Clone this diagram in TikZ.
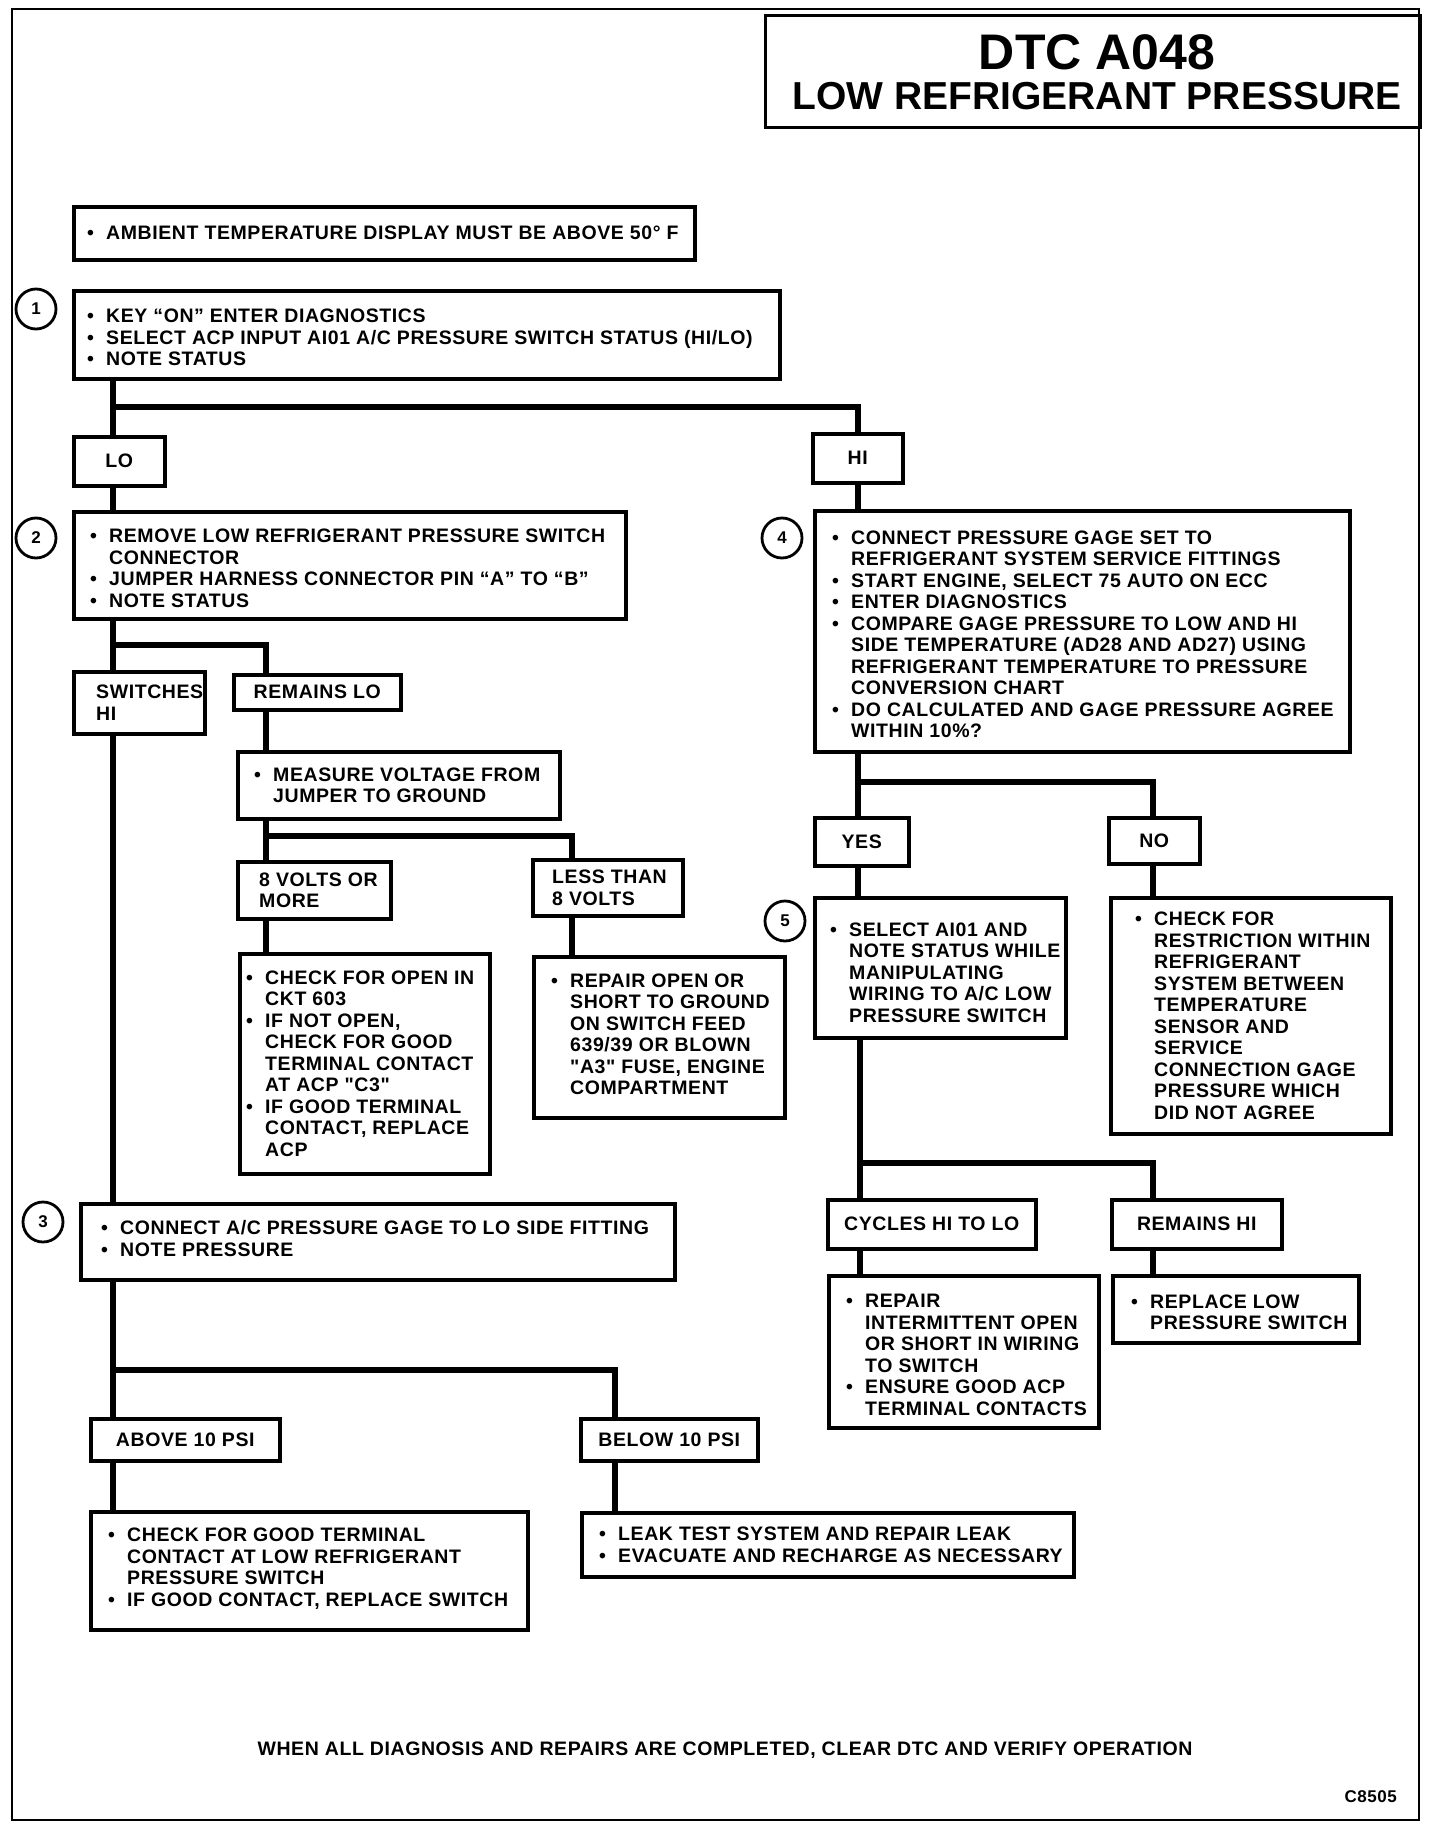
\documentclass[tikz,border=0pt]{standalone}
\usepackage{fontspec}
\setmainfont{Liberation Sans}[LetterSpace=3, Ligatures=TeXOff]
\newfontfamily\titlefont{Liberation Sans}
\usetikzlibrary{backgrounds}
\tikzset{
  bx/.style={draw, line width=3.5pt, fill=white, anchor=north west, inner sep=0pt},
  txt/.style={anchor=west, inner sep=0pt, align=left, font=\fontsize{19.5}{21.5}\selectfont\bfseries},
  lbl/.style={inner sep=0pt, font=\fontsize{19.5}{21.5}\selectfont\bfseries},
  conn/.style={line width=6pt},
  num/.style={circle, draw, line width=2.8pt, minimum size=40pt, inner sep=0pt, font=\fontsize{17}{17}\selectfont\bfseries},
}
\newcommand\bu{\makebox[19pt][l]{•}}
\newcommand\ind{\hspace*{19pt}}
\newcommand\bxn[5]{\node[bx, minimum width=#4pt, minimum height=#5pt] (#1) at (#2,#3) {};}
\begin{document}
\begin{tikzpicture}[x=1pt,y=-1pt]
\useasboundingbox (0,0) rectangle (1440,1830);
\draw[line width=2.5pt] (12,9) rectangle (1419,1820);
% title
\node[draw, line width=3pt, anchor=north west, minimum width=655pt, minimum height=112pt, inner sep=0pt] (tb) at (764,14) {};
\node[inner sep=0pt, font=\titlefont\fontsize{50}{50}\selectfont\bfseries] (tt1) at (1097,52) {DTC A048};
\node[inner sep=0pt, font=\titlefont\fontsize{39}{39}\selectfont\bfseries] (tt2) at (1097,96) {LOW REFRIGERANT PRESSURE};

% boxes
\bxn{b0}{72}{205}{621}{53}
\bxn{b1}{72}{289}{706}{88}
\bxn{lo}{72}{435}{91}{49}
\bxn{hi}{811}{432}{90}{49}
\bxn{b2}{72}{510}{552}{107}
\bxn{b4}{813}{509}{535}{241}
\bxn{sw}{72}{670}{131}{62}
\bxn{rl}{232}{673}{167}{35}
\bxn{ms}{236}{750}{322}{67}
\bxn{v8}{236}{860}{153}{57}
\bxn{lt}{531}{858}{150}{56}
\bxn{ck}{238}{952}{250}{220}
\bxn{rp}{532}{955}{251}{161}
\bxn{b3}{79}{1202}{594}{76}
\bxn{ab}{89}{1417}{189}{42}
\bxn{bl}{579}{1417}{177}{42}
\bxn{cg}{89}{1510}{437}{118}
\bxn{lk}{580}{1511}{492}{64}
\bxn{yes}{813}{816}{94}{48}
\bxn{no}{1107}{816}{91}{46}
\bxn{b5}{813}{896}{251}{140}
\bxn{nb}{1109}{896}{280}{236}
\bxn{cy}{826}{1198}{208}{49}
\bxn{rh}{1110}{1198}{170}{49}
\bxn{ri}{827}{1274}{270}{152}
\bxn{rpl}{1111}{1274}{246}{67}

% numbers
\node[num] (c1) at (36,309) {1};
\node[num] (c2) at (36,538) {2};
\node[num] (c3) at (43,1222) {3};
\node[num] (c4) at (782,538) {4};
\node[num] (c5) at (785,921) {5};

% texts
\node[txt] (t0) at ([xshift=15pt]b0.west) {\bu AMBIENT TEMPERATURE DISPLAY MUST BE ABOVE 50° F};
\node[txt] (t1) at ([xshift=15pt,yshift=-3pt]b1.west) {\bu KEY “ON” ENTER DIAGNOSTICS\\ \bu SELECT ACP INPUT AI01 A/C PRESSURE SWITCH STATUS (HI/LO)\\ \bu NOTE STATUS};
\node[lbl] (tlo) at (lo.center) {LO};
\node[lbl] (thi) at (hi.center) {HI};
\node[txt] (t2) at ([xshift=18pt,yshift=-3pt]b2.west) {\bu REMOVE LOW REFRIGERANT PRESSURE SWITCH\\ \ind CONNECTOR\\ \bu JUMPER HARNESS CONNECTOR PIN “A” TO “B”\\ \bu NOTE STATUS};
\node[txt] (t4) at ([xshift=19pt,yshift=-3pt]b4.west) {\bu CONNECT PRESSURE GAGE SET TO\\ \ind REFRIGERANT SYSTEM SERVICE FITTINGS\\ \bu START ENGINE, SELECT 75 AUTO ON ECC\\ \bu ENTER DIAGNOSTICS\\ \bu COMPARE GAGE PRESSURE TO LOW AND HI\\ \ind SIDE TEMPERATURE (AD28 AND AD27) USING\\ \ind REFRIGERANT TEMPERATURE TO PRESSURE\\ \ind CONVERSION CHART\\ \bu DO CALCULATED AND GAGE PRESSURE AGREE\\ \ind WITHIN 10\%?};
\node[txt] (tsw) at ([xshift=24pt]sw.west) {SWITCHES\\HI};
\node[lbl] (trl) at (rl.center) {REMAINS LO};
\node[txt] (tms) at ([xshift=18pt]ms.west) {\bu MEASURE VOLTAGE FROM\\ \ind JUMPER TO GROUND};
\node[txt] (tv8) at ([xshift=23pt]v8.west) {8 VOLTS OR\\MORE};
\node[txt] (tlt) at ([xshift=21pt]lt.west) {LESS THAN\\8 VOLTS};
\node[txt] (tck) at ([xshift=8pt]ck.west) {\bu CHECK FOR OPEN IN\\ \ind CKT 603\\ \bu IF NOT OPEN,\\ \ind CHECK FOR GOOD\\ \ind TERMINAL CONTACT\\ \ind AT ACP "C3"\\ \bu IF GOOD TERMINAL\\ \ind CONTACT, REPLACE\\ \ind ACP};
\node[txt] (trp) at ([xshift=19pt,yshift=3pt]rp.west) {\bu REPAIR OPEN OR\\ \ind SHORT TO GROUND\\ \ind ON SWITCH FEED\\ \ind 639/39 OR BLOWN\\ \ind "A3" FUSE, ENGINE\\ \ind COMPARTMENT};
\node[txt] (t3) at ([xshift=22pt,yshift=3pt]b3.west) {\bu CONNECT A/C PRESSURE GAGE TO LO SIDE FITTING\\ \bu NOTE PRESSURE};
\node[lbl] (tab) at (ab.center) {ABOVE 10 PSI};
\node[lbl] (tbl) at (bl.center) {BELOW 10 PSI};
\node[txt] (tcg) at ([xshift=19pt,yshift=2pt]cg.west) {\bu CHECK FOR GOOD TERMINAL\\ \ind CONTACT AT LOW REFRIGERANT\\ \ind PRESSURE SWITCH\\ \bu IF GOOD CONTACT, REPLACE SWITCH};
\node[txt] (tlk) at ([xshift=19pt]lk.west) {\bu LEAK TEST SYSTEM AND REPAIR LEAK\\ \bu EVACUATE AND RECHARGE AS NECESSARY};
\node[lbl] (tyes) at (yes.center) {YES};
\node[lbl] (tno) at (no.center) {NO};
\node[txt] (t5) at ([xshift=17pt,yshift=-5pt]b5.west) {\bu SELECT AI01 AND\\ \ind NOTE STATUS WHILE\\ \ind MANIPULATING\\ \ind WIRING TO A/C LOW\\ \ind PRESSURE SWITCH};
\node[txt] (tnb) at ([xshift=26pt]nb.west) {\bu CHECK FOR\\ \ind RESTRICTION WITHIN\\ \ind REFRIGERANT\\ \ind SYSTEM BETWEEN\\ \ind TEMPERATURE\\ \ind SENSOR AND\\ \ind SERVICE\\ \ind CONNECTION GAGE\\ \ind PRESSURE WHICH\\ \ind DID NOT AGREE};
\node[lbl] (tcy) at (cy.center) {CYCLES HI TO LO};
\node[lbl] (trh) at (rh.center) {REMAINS HI};
\node[txt] (tri) at ([xshift=19pt,yshift=-3pt]ri.west) {\bu REPAIR\\ \ind INTERMITTENT OPEN\\ \ind OR SHORT IN WIRING\\ \ind TO SWITCH\\ \bu ENSURE GOOD ACP\\ \ind TERMINAL CONTACTS};
\node[txt] (trpl) at ([xshift=20pt,yshift=-3pt]rpl.west) {\bu REPLACE LOW\\ \ind PRESSURE SWITCH};

\node[lbl] (foot) at (725,1750) {WHEN ALL DIAGNOSIS AND REPAIRS ARE COMPLETED, CLEAR DTC AND VERIFY OPERATION};
\node[lbl, anchor=east, font=\fontsize{17}{17}\selectfont\bfseries] (code) at (1397,1797) {C8505};

% connectors
\coordinate (tx) at (113,0);
\coordinate (rx) at (858,0);
\coordinate (bus1) at (0,407);
\begin{pgfonlayer}{background}
\draw[conn] (b1.south -| tx) -- (lo.north -| tx);
\draw[conn] (tx |- bus1) -| (hi.north -| rx);
\draw[conn] (lo.south -| tx) -- (b2.north -| tx);
\draw[conn] (hi.south -| rx) -- (b4.north -| rx);
% step 2 branches
\draw[conn] (b2.south -| tx) -- (sw.north -| tx);
\draw[conn] (113,645) -| (rl.north -| 266,0);
\draw[conn] (rl.south -| 266,0) -- (ms.north -| 266,0);
\draw[conn] (ms.south -| 266,0) -- (v8.north -| 266,0);
\draw[conn] (266,836) -| (lt.north -| 572,0);
\draw[conn] (v8.south -| 266,0) -- (ck.north -| 266,0);
\draw[conn] (lt.south -| 572,0) -- (rp.north -| 572,0);
% trunk to step 3
\draw[conn] (sw.south -| tx) -- (b3.north -| tx);
\draw[conn] (b3.south -| tx) -- (ab.north -| tx);
\draw[conn] (113,1370) -| (bl.north -| 615,0);
\draw[conn] (ab.south -| tx) -- (cg.north -| tx);
\draw[conn] (bl.south -| 615,0) -- (lk.north -| 615,0);
% right side
\draw[conn] (b4.south -| rx) -- (yes.north -| rx);
\draw[conn] (858,782) -| (no.north -| 1153,0);
\draw[conn] (no.south -| 1153,0) -- (nb.north -| 1153,0);
\draw[conn] (yes.south -| rx) -- (b5.north -| rx);
\draw[conn] (b5.south -| 860,0) -- (cy.north -| 860,0);
\draw[conn] (860,1163) -| (rh.north -| 1153,0);
\draw[conn] (cy.south -| 860,0) -- (ri.north -| 860,0);
\draw[conn] (rh.south -| 1153,0) -- (rpl.north -| 1153,0);
\end{pgfonlayer}
\end{tikzpicture}
\end{document}
